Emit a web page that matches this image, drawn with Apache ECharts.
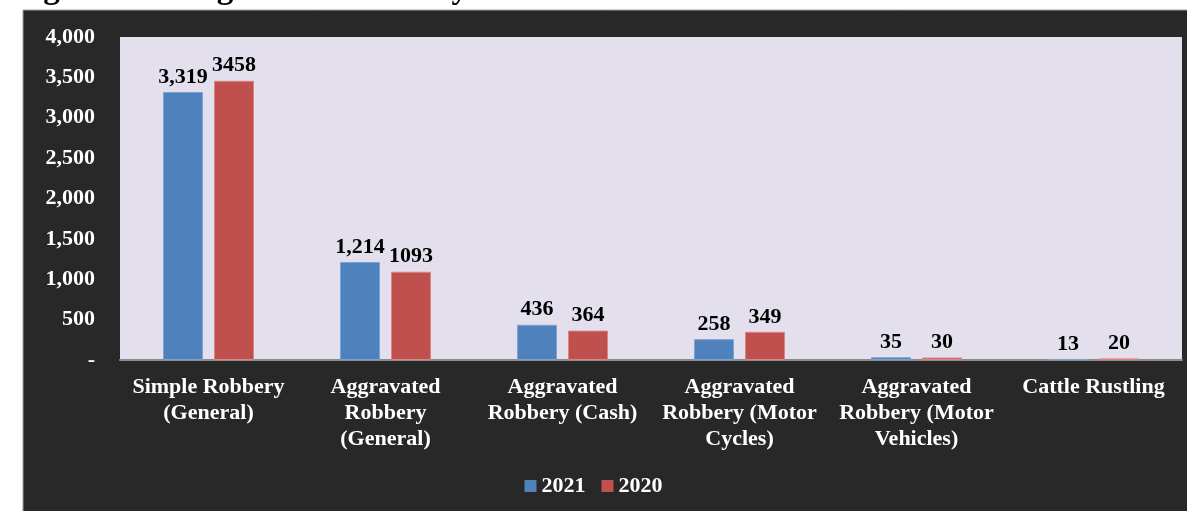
<!DOCTYPE html>
<html>
<head>
<meta charset="utf-8">
<script src="https://cdn.jsdelivr.net/npm/echarts@6/dist/echarts.min.js"></script>
<style>
html,body{margin:0;padding:0;background:#ffffff;}
#chart{width:1187px;height:511px;}
</style>
</head>
<body>
<div id="chart"></div>
<script>
const titleText = 'Figure 7: Categories of Robbery';
const categories = [
  'Simple Robbery\n(General)',
  'Aggravated\nRobbery\n(General)',
  'Aggravated\nRobbery (Cash)',
  'Aggravated\nRobbery (Motor\nCycles)',
  'Aggravated\nRobbery (Motor\nVehicles)',
  'Cattle Rustling'
];
const seriesNames = ['2021', '2020'];
const values2021 = [3319, 1214, 436, 258, 35, 13];
const values2020 = [3458, 1093, 364, 349, 30, 20];
const yTicks = [0, 500, 1000, 1500, 2000, 2500, 3000, 3500, 4000];

const FONT = '"Liberation Serif", "Times New Roman", serif';
const FS = 22;
const chart = echarts.init(document.getElementById('chart'), null, {renderer: 'canvas'});

function fmtComma(v){ return v === 0 ? '-' : v.toLocaleString('en-US'); }

chart.setOption({
  backgroundColor: '#ffffff',
  animation: false,
  textStyle: {fontFamily: FONT},
  graphic: [
    {type: 'rect', z: -10, shape: {x: 23, y: 10, width: 1170, height: 510},
     style: {fill: '#282828', stroke: '#a0a0a0', lineWidth: 1}},
    {type: 'text', z: 1, left: 14, top: -27,
     style: {text: titleText, font: 'bold 33px ' + FONT, fill: '#000000'}}
  ],
  grid: {left: 120, right: 5, top: 37, bottom: 151, show: true,
         backgroundColor: '#e4dfec', borderWidth: 0, containLabel: false},
  legend: {
    data: seriesNames, bottom: 9, left: 'center',
    itemWidth: 12, itemHeight: 12, itemGap: 16, icon: 'rect',
    itemStyle: {borderWidth: 0},
    textStyle: {color: '#ffffff', fontSize: FS, fontWeight: 'bold', fontFamily: FONT, padding: [0,0,0,0]}
  },
  xAxis: {
    type: 'category', data: categories,
    axisLine: {show: true, lineStyle: {color: '#8c8c8c', width: 2}},
    axisTick: {show: false},
    axisLabel: {color: '#ffffff', fontSize: FS, fontWeight: 'bold', fontFamily: FONT,
                lineHeight: 26, margin: 14, interval: 0}
  },
  yAxis: {
    type: 'value', min: yTicks[0], max: yTicks[yTicks.length-1], interval: yTicks[1]-yTicks[0],
    axisLine: {show: false}, axisTick: {show: false}, splitLine: {show: false},
    axisLabel: {color: '#ffffff', fontSize: FS, fontWeight: 'bold', fontFamily: FONT,
                margin: 25, formatter: fmtComma}
  },
  series: [
    {name: seriesNames[0], type: 'bar', data: values2021, barWidth: 40, barGap: '27.5%',
     itemStyle: {color: '#4f81bd', borderColor: '#7ea2d0', borderWidth: 1},
     label: {show: true, position: 'top', distance: 4, color: '#000000', fontSize: FS,
             fontWeight: 'bold', fontFamily: FONT, formatter: p => fmtComma(p.value)}},
    {name: seriesNames[1], type: 'bar', data: values2020, barWidth: 40,
     itemStyle: {color: '#c0504d', borderColor: '#d98583', borderWidth: 1},
     label: {show: true, position: 'top', distance: 4, color: '#000000', fontSize: FS,
             fontWeight: 'bold', fontFamily: FONT, formatter: p => String(p.value)}}
  ]
});
</script>
</body>
</html>
